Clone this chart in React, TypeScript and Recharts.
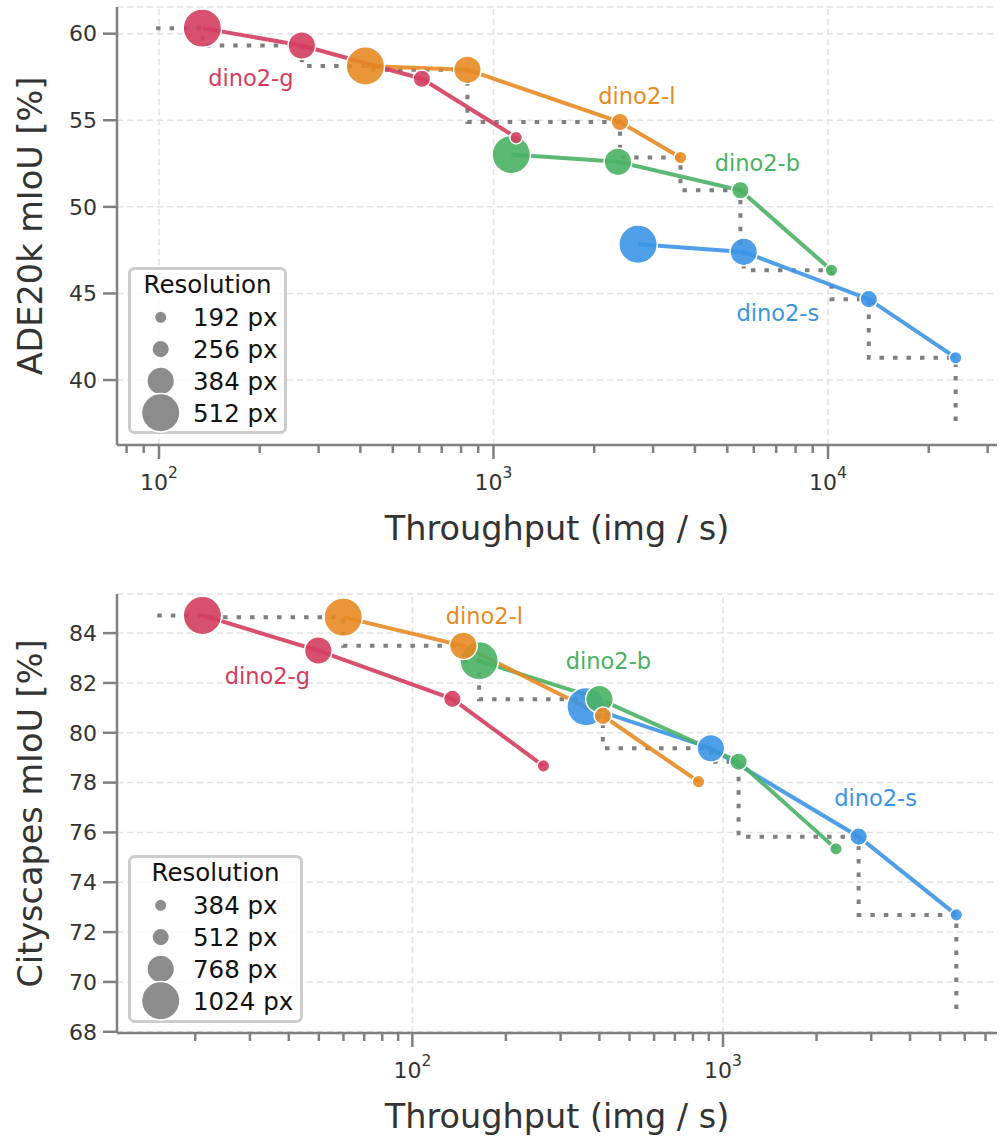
import { ScatterChart, Scatter, XAxis, YAxis, CartesianGrid, ReferenceLine, ReferenceDot, Legend } from "recharts";

const FONT = "'DejaVu Sans', sans-serif";
const SPINE = "#808080";
const INK = "#333333";
const GRID = "#e2e2e2";
const COLORS = ["#d43d60", "#e78a24", "#4ab165", "#3b93e5"];
const NAMES = ["dino2-g", "dino2-l", "dino2-b", "dino2-s"];
// marker radius per resolution rank (smallest -> largest)
const RADII = [6.3, 8.8, 13.8, 19.2];

// ---- ADE20k ----
const ADE_RES = [192, 256, 384, 512];
const ADE_POINT_RES = [512, 384, 256, 192];
const ADE_G_TPUT = [134.8, 267.3, 610.7, 1169];
const ADE_G_MIOU = [60.32, 59.32, 57.4, 54.0];
const ADE_L_TPUT = [414, 835.8, 2388, 3622];
const ADE_L_MIOU = [58.13, 57.92, 54.9, 52.85];
const ADE_B_TPUT = [1130, 2355, 5470, 10240];
const ADE_B_MIOU = [53.02, 52.6, 50.96, 46.34];
const ADE_S_TPUT = [2705, 5598, 13240, 24070];
const ADE_S_MIOU = [47.84, 47.4, 44.67, 41.29];
const ADE_X_TICKS = [80, 90, 100, 200, 300, 400, 500, 600, 700, 800, 900, 1000, 2000, 3000, 4000, 5000, 6000, 7000, 8000, 9000, 10000, 20000, 30000];
const ADE_Y_TICKS = [40, 45, 50, 55, 60];

// ---- Cityscapes ----
const CITY_RES = [384, 512, 768, 1024];
const CITY_POINT_RES = [1024, 768, 512, 384];
const CITY_G_TPUT = [21.1, 49.8, 134.5, 264.2];
const CITY_G_MIOU = [84.71, 83.3, 81.36, 78.67];
const CITY_L_TPUT = [59.9, 146, 410.4, 834];
const CITY_L_MIOU = [84.64, 83.49, 80.68, 78.04];
const CITY_B_TPUT = [164, 400.2, 1122, 2310];
const CITY_B_MIOU = [82.89, 81.35, 78.84, 75.34];
const CITY_S_TPUT = [362.6, 914, 2732, 5636];
const CITY_S_MIOU = [81.05, 79.38, 75.83, 72.69];
const CITY_X_TICKS = [20, 30, 40, 50, 60, 70, 80, 90, 100, 200, 300, 400, 500, 600, 700, 800, 900, 1000, 2000, 3000, 4000, 5000, 6000, 7000];
const CITY_Y_TICKS = [68, 70, 72, 74, 76, 78, 80, 82, 84];

interface Pt { x: number; y: number; res?: number }

// pareto frontier as a stepBefore path: best mIoU at >= throughput
function frontier(series: Pt[][], startX: number, endY: number): Pt[] {
  const pts = series.flat().slice().sort((a, b) => b.x - a.x);
  const front: Pt[] = [];
  let best = -Infinity;
  for (const p of pts) {
    if (p.y > best) {
      front.push({ x: p.x, y: p.y });
      best = p.y;
    }
  }
  front.reverse();
  return [{ x: startX, y: front[0].y }, ...front, { x: front[front.length - 1].x, y: endY }];
}

function LogTick(props: any) {
  const { x, y, payload } = props;
  const e = Math.log10(payload.value);
  const major = Math.abs(e - Math.round(e)) < 1e-6;
  return (
    <g>
      <line x1={x} x2={x} y1={y} y2={y + (major ? 14 : 8)} stroke={SPINE} strokeWidth={2.5} />
      {major && (
        <text x={x} y={y + 45} textAnchor="middle" fontFamily={FONT} fontSize={22} fill={INK}>
          10<tspan dy={-12} fontSize={15.5}>{Math.round(e)}</tspan>
        </text>
      )}
    </g>
  );
}

function ResolutionLegend({ res, width, height }: { res: number[]; width: number; height: number }) {
  return (
    <svg width={width} height={height} style={{ display: "block" }}>
      <rect x={1.5} y={1.5} width={width - 3} height={height - 3} rx={5} fill="#fff" fillOpacity={0.8} stroke="#cccccc" strokeWidth={3} />
      <text x={width / 2} y={26} textAnchor="middle" fontFamily={FONT} fontSize={24.5} fill="#111">
        Resolution
      </text>
      {res.map((r, i) => (
        <g key={r}>
          <circle cx={32.7} cy={50.3 + i * 31.8} r={RADII[i]} fill="#8c8c8c" stroke="#fff" strokeWidth={1.5} />
          <text x={65} y={50.3 + i * 31.8} dy="0.36em" fontFamily={FONT} fontSize={24.5} fill="#111">
            {r} px
          </text>
        </g>
      ))}
    </svg>
  );
}

interface LabelCfg { point: number; dx: number; dy: number }

interface PanelProps {
  xs: number[][];
  ys: number[][];
  pointRes: number[];
  legendRes: number[];
  xDomain: [number, number];
  yDomain: [number, number];
  xTicks: number[];
  yTicks: number[];
  yLabel: string;
  frontierStart: number;
  frontierEnd: number;
  height: number;
  top: number;
  xAxisHeight: number;
  legendBox: { left: number; top: number; width: number; height: number };
  labels: LabelCfg[];
}

function Panel(p: PanelProps) {
  const data: Pt[][] = p.xs.map((xs, s) => xs.map((x, i) => ({ x, y: p.ys[s][i], res: p.pointRes[i] })));
  const front = frontier(data, p.frontierStart, p.frontierEnd);
  const order = [3, 2, 1, 0];
  const majors = p.xTicks.filter((t) => Math.abs(Math.log10(t) - Math.round(Math.log10(t))) < 1e-6);
  return (
    <ScatterChart width={1005} height={p.height} margin={{ top: p.top, right: 8, bottom: 0, left: 0 }}>
      <CartesianGrid vertical={false} stroke={GRID} strokeWidth={1.5} strokeDasharray="6 4" />
      {majors.map((m) => (
        <ReferenceLine key={m} x={m} stroke={GRID} strokeWidth={1.5} strokeDasharray="6 4" />
      ))}
      <XAxis
        dataKey="x"
        type="number"
        scale="log"
        domain={p.xDomain}
        allowDataOverflow
        ticks={p.xTicks}
        interval={0}
        tick={(t: any) => <LogTick {...t} />}
        tickLine={false}
        tickSize={0}
        tickMargin={0}
        axisLine={{ stroke: SPINE, strokeWidth: 2.5 }}
        height={p.xAxisHeight}
        label={(l: any) => {
          const vb = l.viewBox;
          return (
            <text x={vb.x + vb.width / 2} y={vb.y + 95} textAnchor="middle" fontFamily={FONT} fontSize={33.5} fill={INK}>
              Throughput (img / s)
            </text>
          );
        }}
      />
      <YAxis
        dataKey="y"
        type="number"
        domain={p.yDomain}
        allowDataOverflow
        ticks={p.yTicks}
        interval={0}
        width={117}
        tickSize={14}
        tickMargin={6}
        tickLine={{ stroke: SPINE, strokeWidth: 2.5 }}
        axisLine={{ stroke: SPINE, strokeWidth: 2.5 }}
        tick={{ fontSize: 22, fill: INK, fontFamily: FONT }}
        label={(l: any) => {
          const vb = l.viewBox;
          const cy = vb.y + vb.height / 2;
          return (
            <text x={42} y={cy} transform={`rotate(-90, 42, ${cy})`} textAnchor="middle" fontFamily={FONT} fontSize={33.5} fill={INK}>
              {p.yLabel}
            </text>
          );
        }}
      />
      <Scatter
        data={front}
        line={{ stroke: "#7f7f7f", strokeWidth: 4, strokeDasharray: "4.5 9" }}
        lineJointType="stepBefore"
        shape={() => <g />}
        isAnimationActive={false}
      />
      {order.map((s) => (
        <Scatter
          key={"line" + s}
          data={data[s]}
          line={{ stroke: COLORS[s], strokeWidth: 4, strokeOpacity: 0.9 }}
          shape={() => <g />}
          isAnimationActive={false}
        />
      ))}
      {order.map((s) => (
        <Scatter
          key={"pts" + s}
          data={data[s]}
          isAnimationActive={false}
          shape={(d: any) => (
            <circle
              cx={d.cx}
              cy={d.cy}
              r={RADII[p.legendRes.indexOf(d.payload.res)]}
              fill={COLORS[s]}
              fillOpacity={0.9}
              stroke="#fff"
              strokeWidth={1.5}
            />
          )}
        />
      ))}
      {p.labels.map((lb, s) => (
        <ReferenceDot
          key={"lab" + s}
          x={p.xs[s][lb.point]}
          y={p.ys[s][lb.point]}
          r={0}
          ifOverflow="visible"
          shape={(d: any) => (
            <text x={d.cx + lb.dx} y={d.cy + lb.dy} textAnchor="middle" fontFamily={FONT} fontSize={22.5} fill={COLORS[s]}>
              {NAMES[s]}
            </text>
          )}
        />
      ))}
      <Legend
        layout="horizontal"
        verticalAlign="middle"
        align="center"
        wrapperStyle={{ position: "absolute", left: p.legendBox.left, top: p.legendBox.top, width: p.legendBox.width, height: p.legendBox.height }}
        content={() => <ResolutionLegend res={p.legendRes} width={p.legendBox.width} height={p.legendBox.height} />}
      />
    </ScatterChart>
  );
}

export default function App() {
  return (
    <div style={{ position: "absolute", left: 0, top: 0, width: 1005, height: 1141, background: "#fff" }}>
      <Panel
        xs={[ADE_G_TPUT, ADE_L_TPUT, ADE_B_TPUT, ADE_S_TPUT]}
        ys={[ADE_G_MIOU, ADE_L_MIOU, ADE_B_MIOU, ADE_S_MIOU]}
        pointRes={ADE_POINT_RES}
        legendRes={ADE_RES}
        xDomain={[74.9, 32000]}
        yDomain={[36.25, 61.54]}
        xTicks={ADE_X_TICKS}
        yTicks={ADE_Y_TICKS}
        yLabel="ADE20k mIoU [%]"
        frontierStart={98}
        frontierEnd={37.4}
        height={570}
        top={7}
        xAxisHeight={125}
        legendBox={{ left: 128, top: 267, width: 159, height: 167 }}
        labels={[
          { point: 1, dx: -51, dy: 41 },
          { point: 2, dx: 17, dy: -18 },
          { point: 2, dx: 17, dy: -19 },
          { point: 2, dx: -91, dy: 22 },
        ]}
      />
      <Panel
        xs={[CITY_G_TPUT, CITY_L_TPUT, CITY_B_TPUT, CITY_S_TPUT]}
        ys={[CITY_G_MIOU, CITY_L_MIOU, CITY_B_MIOU, CITY_S_MIOU]}
        pointRes={CITY_POINT_RES}
        legendRes={CITY_RES}
        xDomain={[11.2, 7620]}
        yDomain={[67.95, 85.57]}
        xTicks={CITY_X_TICKS}
        yTicks={CITY_Y_TICKS}
        yLabel="Cityscapes mIoU [%]"
        frontierStart={15.1}
        frontierEnd={68.74}
        height={571}
        top={24}
        xAxisHeight={108}
        legendBox={{ left: 128, top: 285, width: 175, height: 168 }}
        labels={[
          { point: 1, dx: -51, dy: 33 },
          { point: 1, dx: 21, dy: -22 },
          { point: 1, dx: 9, dy: -30 },
          { point: 2, dx: 17, dy: -31 },
        ]}
      />
    </div>
  );
}
